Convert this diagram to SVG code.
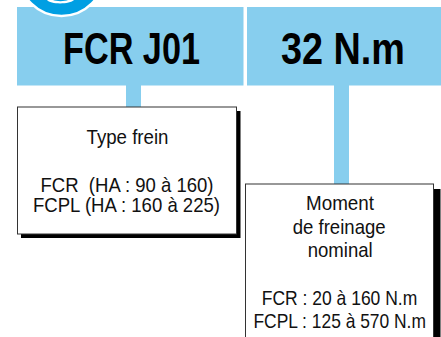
<svg xmlns="http://www.w3.org/2000/svg" width="441" height="337" viewBox="0 0 441 337">
<style>
.band{fill:#87CEEE}
.title{font-family:"Liberation Sans",Arial,sans-serif;font-weight:bold;font-size:45px;fill:#000;text-anchor:middle}
.lbl{font-family:"Liberation Sans",Arial,sans-serif;font-size:21px;fill:#111;text-anchor:middle}
.box{fill:#fff;stroke:#333;stroke-width:1}
.shadow{fill:#000}
</style>
<rect width="441" height="337" fill="#fff"/>
<g id="header-model">
<rect class="band" x="17" y="7" width="226.5" height="78.5"/>
<text class="title" x="131.5" y="64" textLength="137" lengthAdjust="spacingAndGlyphs">FCR J01</text>
</g>
<g id="header-torque">
<rect class="band" x="247" y="7" width="194" height="78.5"/>
<text class="title" x="343" y="64" textLength="124" lengthAdjust="spacingAndGlyphs">32 N.m</text>
</g>
<g id="badge">
<circle cx="61.5" cy="-27" r="43" fill="#009FE3" stroke="#fff" stroke-width="2.5"/>
<path d="M47,0 C50,4.5 70,4.5 74,0 Z" fill="#fff"/>
<path d="M53,0 C56,1.5 65,1.5 68,0 Z" fill="#009FE3"/>
</g>
<g id="connectors">
<rect class="band" x="126" y="85" width="15" height="22.5"/>
<rect class="band" x="334" y="85" width="15" height="99.5"/>
</g>
<g id="box-type">
<rect class="shadow" x="21" y="111" width="219.5" height="127"/>
<rect class="box" x="17.5" y="107" width="219" height="127"/>
<text class="lbl" x="127.5" y="143.5" textLength="82" lengthAdjust="spacingAndGlyphs">Type frein</text>
<text class="lbl" x="127" y="191.5" textLength="173" lengthAdjust="spacingAndGlyphs" xml:space="preserve">FCR  (HA : 90 à 160)</text>
<text class="lbl" x="126.5" y="211.5" textLength="187" lengthAdjust="spacingAndGlyphs">FCPL (HA : 160 à 225)</text>
</g>
<g id="box-torque">
<rect class="shadow" x="251.5" y="189" width="189" height="148"/>
<rect class="box" x="245.5" y="184" width="188" height="154"/>
<text class="lbl" x="340" y="209.5" textLength="68" lengthAdjust="spacingAndGlyphs">Moment</text>
<text class="lbl" x="339.2" y="233.5" textLength="93" lengthAdjust="spacingAndGlyphs">de freinage</text>
<text class="lbl" x="340.2" y="257" textLength="65" lengthAdjust="spacingAndGlyphs">nominal</text>
<text class="lbl" x="339.5" y="305" textLength="155.5" lengthAdjust="spacingAndGlyphs">FCR : 20 à 160 N.m</text>
<text class="lbl" x="339.7" y="328" textLength="172.5" lengthAdjust="spacingAndGlyphs">FCPL : 125 à 570 N.m</text>
</g>
</svg>
